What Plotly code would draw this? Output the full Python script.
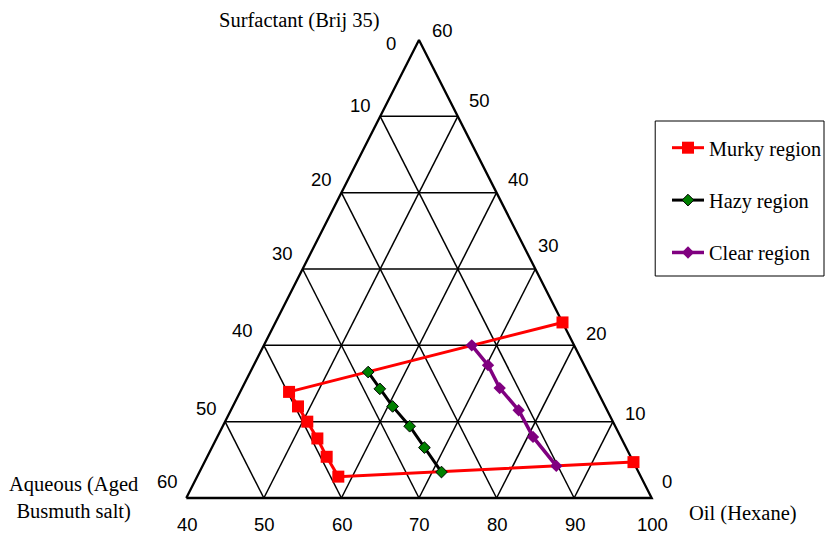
import plotly.graph_objects as go

# ---- data: compositions in wt % (surfactant, oil, aqueous) ----
oil_ticks = [40, 50, 60, 70, 80, 90, 100]
surf_ticks = [0, 10, 20, 30, 40, 50, 60]
aq_ticks = [0, 10, 20, 30, 40, 50, 60]

murky_surf = [23.0, 13.9, 12.0, 10.0, 7.8, 5.4, 2.8, 4.7]
murky_oil = [77.0, 46.3, 48.4, 50.6, 53.0, 55.4, 58.2, 95.3]
murky_aq = [0.0, 39.8, 39.6, 39.4, 39.2, 39.2, 39.0, 0.0]

hazy_surf = [16.5, 14.3, 12.0, 9.4, 6.6, 3.4]
hazy_oil = [55.2, 57.8, 60.6, 64.1, 67.4, 71.2]
hazy_aq = [28.3, 27.9, 27.4, 26.5, 26.0, 25.4]

clear_surf = [20.0, 17.4, 14.4, 11.5, 8.0, 4.2]
clear_oil = [66.8, 70.2, 73.2, 77.1, 80.7, 85.6]
clear_aq = [13.2, 12.4, 12.4, 11.4, 11.3, 10.2]

W, H = 827, 534
# pixel anchors of the triangle (base-left, base-right, base, apex)
PX_L, PX_R, PY_B, PY_T = 186.5, 652.5, 498.0, 40.0
OIL_MIN, OIL_MAX, S_MAX = 40.0, 100.0, 60.0


def to_xy(surf, oil):
    """Project a (surfactant, oil) composition onto the triangle plane."""
    return oil + surf / 2.0, surf


def series_xy(surf, oil):
    pts = [to_xy(s, o) for s, o in zip(surf, oil)]
    return [p[0] for p in pts], [p[1] for p in pts]


kx = (PX_R - PX_L) / (OIL_MAX - OIL_MIN)
ky = (PY_B - PY_T) / S_MAX
x_range = [OIL_MIN - PX_L / kx, OIL_MAX + (W - PX_R) / kx]
y_range = [-(H - PY_B) / ky, S_MAX + PY_T / ky]

fig = go.Figure()

# ---- grid: lines of constant surfactant, oil and aqueous ----
gx, gy = [], []
for s in surf_ticks[1:-1]:
    for p in (to_xy(s, OIL_MIN), to_xy(s, 100 - s)):
        gx.append(p[0]); gy.append(p[1])
    gx.append(None); gy.append(None)
for o in oil_ticks[1:-1]:
    for p in (to_xy(0, o), to_xy(100 - o, o)):
        gx.append(p[0]); gy.append(p[1])
    gx.append(None); gy.append(None)
for q in aq_ticks[1:-1]:
    for p in (to_xy(0, 100 - q), to_xy(S_MAX - q, OIL_MIN)):
        gx.append(p[0]); gy.append(p[1])
    gx.append(None); gy.append(None)
fig.add_trace(go.Scatter(x=gx, y=gy, mode="lines", line=dict(color="black", width=1.5),
                         showlegend=False, hoverinfo="skip"))

# outer triangle
corners = [(0, OIL_MIN), (0, OIL_MAX), (S_MAX, OIL_MIN), (0, OIL_MIN)]
tx = [to_xy(s, o)[0] for s, o in corners]
ty = [to_xy(s, o)[1] for s, o in corners]
fig.add_trace(go.Scatter(x=tx, y=ty, mode="lines", line=dict(color="black", width=2.3),
                         showlegend=False, hoverinfo="skip"))

# ---- phase boundaries ----
mx, my = series_xy(murky_surf, murky_oil)
fig.add_trace(go.Scatter(x=mx, y=my, mode="lines+markers", name="Murky region",
                         legendgroup="m",
                         line=dict(color="#ff0000", width=3),
                         marker=dict(symbol="square", size=12, color="#ff0000")))
hx, hy = series_xy(hazy_surf, hazy_oil)
fig.add_trace(go.Scatter(x=hx, y=hy, mode="lines+markers", name="Hazy region",
                         legendgroup="h",
                         line=dict(color="black", width=3),
                         marker=dict(symbol="diamond", size=9, color="#008000",
                                     line=dict(color="black", width=1))))
cx, cy = series_xy(clear_surf, clear_oil)
fig.add_trace(go.Scatter(x=cx, y=cy, mode="lines+markers", name="Clear region",
                         legendgroup="c",
                         line=dict(color="#800080", width=3.5),
                         marker=dict(symbol="diamond", size=9.5, color="#800080")))

# ---- tick labels ----
tick_font = dict(family="Liberation Sans, Arial, sans-serif", size=18.5, color="black")
annotations = []
left_shift = [(-28, -3), (-20, 11), (-20, 13), (-20, 16), (-21, 15), (-19, 13), (-19, 17)]
for q, (dx, dy) in zip(aq_ticks, left_shift):
    x, y = to_xy(S_MAX - q, OIL_MIN)
    annotations.append(dict(x=x, y=y, xref="x", yref="y", text=str(q), showarrow=False,
                            xanchor="center", yanchor="middle",
                            xshift=dx, yshift=dy, font=tick_font))
right_shift = [(15, 17), (23, 8), (22, 12), (13, 24), (22, 13), (22, 16), (24, 10)]
for s, (dx, dy) in zip(surf_ticks, right_shift):
    x, y = to_xy(s, 100 - s)
    annotations.append(dict(x=x, y=y, xref="x", yref="y", text=str(s), showarrow=False,
                            xanchor="center", yanchor="middle",
                            xshift=dx, yshift=dy, font=tick_font))
for o in oil_ticks:
    x, y = to_xy(0, o)
    annotations.append(dict(x=x, y=y, xref="x", yref="y", text=str(o), showarrow=False,
                            xanchor="center", yanchor="middle",
                            xshift=1, yshift=-26, font=tick_font))

# ---- axis titles ----
serif = "Liberation Serif, Times New Roman, serif"
title_font = dict(family=serif, size=20.5, color="black")
annotations += [
    dict(x=300 / W, y=1 - 21 / H, xref="paper", yref="paper", text="Surfactant (Brij 35)",
         showarrow=False, xanchor="center", yanchor="middle", font=title_font),
    dict(x=74 / W, y=1 - 498 / H, xref="paper", yref="paper",
         text="Aqueous (Aged<br>Busmuth salt)", showarrow=False, align="center",
         xanchor="center", yanchor="middle", font=title_font),
    dict(x=744 / W, y=1 - 513 / H, xref="paper", yref="paper", text="Oil (Hexane)",
         showarrow=False, xanchor="center", yanchor="middle", font=title_font),
]

# legend frame
shapes = [dict(type="rect", xref="paper", yref="paper",
               x0=656 / W, x1=825 / W, y0=1 - 276 / H, y1=1 - 121 / H,
               line=dict(color="black", width=1), fillcolor="rgba(0,0,0,0)")]

fig.update_layout(
    width=W, height=H,
    margin=dict(l=0, r=0, t=0, b=0),
    paper_bgcolor="white", plot_bgcolor="white",
    xaxis=dict(range=x_range, visible=False, fixedrange=True),
    yaxis=dict(range=y_range, visible=False, fixedrange=True),
    annotations=annotations,
    shapes=shapes,
    showlegend=True,
    legend=dict(x=668 / W, y=1 - 128 / H, xanchor="left", yanchor="top",
                bgcolor="rgba(0,0,0,0)", borderwidth=0,
                font=dict(family=serif, size=20.3, color="black"),
                tracegroupgap=23, itemwidth=32),
)

fig.write_html("out.html")
